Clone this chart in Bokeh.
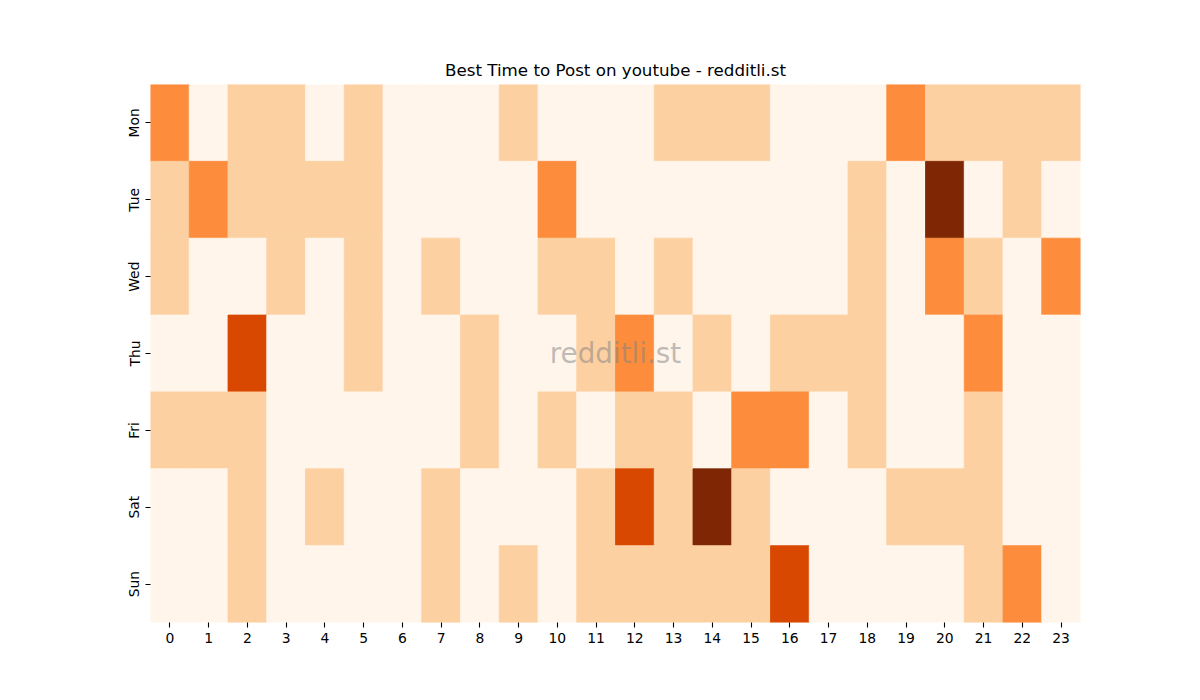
from bokeh.plotting import figure
from bokeh.models import ColumnDataSource, Range1d, FixedTicker, LinearColorMapper
from bokeh.core.properties import value
from bokeh.embed import file_html
from bokeh.resources import INLINE

days = ["Mon", "Tue", "Wed", "Thu", "Fri", "Sat", "Sun"]
hours = [str(h) for h in range(24)]

mon = [2, 0, 1, 1, 0, 1, 0, 0, 0, 1, 0, 0, 0, 1, 1, 1, 0, 0, 0, 2, 1, 1, 1, 1]
tue = [1, 2, 1, 1, 1, 1, 0, 0, 0, 0, 2, 0, 0, 0, 0, 0, 0, 0, 1, 0, 4, 0, 1, 0]
wed = [1, 0, 0, 1, 0, 1, 0, 1, 0, 0, 1, 1, 0, 1, 0, 0, 0, 0, 1, 0, 2, 1, 0, 2]
thu = [0, 0, 3, 0, 0, 1, 0, 0, 1, 0, 0, 1, 2, 0, 1, 0, 1, 1, 1, 0, 0, 2, 0, 0]
fri = [1, 1, 1, 0, 0, 0, 0, 0, 1, 0, 1, 0, 1, 1, 0, 2, 2, 0, 1, 0, 0, 1, 0, 0]
sat = [0, 0, 1, 0, 1, 0, 0, 1, 0, 0, 0, 1, 3, 1, 4, 1, 0, 0, 0, 1, 1, 1, 0, 0]
sun = [0, 0, 1, 0, 0, 0, 0, 1, 0, 1, 0, 1, 1, 1, 1, 1, 3, 0, 0, 0, 0, 1, 2, 0]

grid = [mon, tue, wed, thu, fri, sat, sun]

oranges = ["#fff5eb", "#fdd0a2", "#fd8d3c", "#d94801", "#7f2704"]

xs, ys, vals = [], [], []
for d, row in enumerate(grid):
    for h, v in enumerate(row):
        xs.append(h + 0.5)
        ys.append(d + 0.5)
        vals.append(v)

source = ColumnDataSource(data=dict(x=xs, y=ys, v=vals))
mapper = LinearColorMapper(palette=oranges, low=0, high=4)

FONT = "DejaVu Sans"

p = figure(width=1184, height=684, output_backend="svg", toolbar_location=None,
           x_range=Range1d(0, len(hours)), y_range=Range1d(len(days), 0),
           title="Best Time to Post on youtube - redditli.st",
           min_border_left=150, min_border_right=104, min_border_top=84, min_border_bottom=62)

# le trait de la meme couleur evite les petites lignes blanches entre cases
p.rect(x="x", y="y", width=1, height=1, source=source,
       fill_color={"field": "v", "transform": mapper},
       line_color={"field": "v", "transform": mapper}, line_width=0.8)

# filigrane
p.text(x=[len(hours) / 2], y=[len(days) / 2], text=["redditli.st"],
       text_font=value(FONT), text_font_size="27.8px", text_color="gray", text_alpha=0.5,
       text_align="center", text_baseline="middle")

p.title.align = "center"
p.title.text_font = FONT
p.title.text_font_size = "16.7px"
p.title.text_font_style = "normal"
p.title.text_color = "black"

p.xaxis.ticker = FixedTicker(ticks=[h + 0.5 for h in range(len(hours))])
p.xaxis.major_label_overrides = {h + 0.5: hours[h] for h in range(len(hours))}
p.yaxis.ticker = FixedTicker(ticks=[d + 0.5 for d in range(len(days))])
p.yaxis.major_label_overrides = {d + 0.5: days[d] for d in range(len(days))}
p.yaxis.major_label_orientation = "vertical"

for ax in [p.xaxis, p.yaxis]:
    ax.axis_line_color = None
    ax.minor_tick_line_color = None
    ax.major_tick_in = 0
    ax.major_tick_out = 5
    ax.major_tick_line_width = 1.1
    ax.major_tick_line_color = "black"
    ax.major_label_text_font = FONT
    ax.major_label_text_font_size = "13.9px"
    ax.major_label_text_color = "black"
    ax.major_label_standoff = 5
p.yaxis.major_label_standoff = 3

p.xgrid.grid_line_color = None
p.ygrid.grid_line_color = None
p.outline_line_color = None

open("out.html", "w").write(file_html(p, INLINE))
